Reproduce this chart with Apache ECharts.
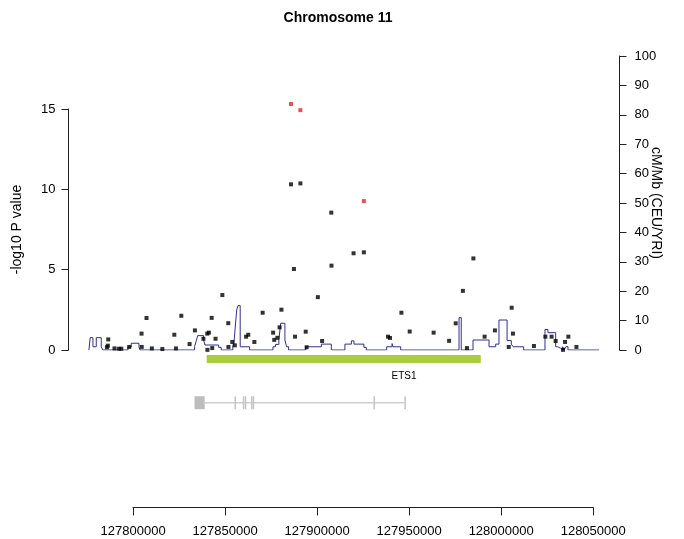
<!DOCTYPE html>
<html>
<head>
<meta charset="utf-8">
<script src="https://cdn.jsdelivr.net/npm/echarts@6/dist/echarts.min.js"></script>
<style>
  html, body { margin: 0; padding: 0; background: #ffffff; }
  #chart { width: 684px; height: 539px; }
</style>
</head>
<body>
<div id="chart"></div>
<script>
// SNP positions (bp, chromosome 11) and their -log10 P values
const snpPos = [
  127785800, 127786300, 127786500, 127789900, 127792300, 127793600, 127797900,
  127804600, 127804700, 127807300, 127810200, 127815900, 127822400, 127823300,
  127826200, 127830700, 127833600, 127838200, 127840300, 127841200, 127840400,
  127843000, 127842700, 127844800, 127848500, 127851700, 127851800, 127853900,
  127855300, 127861400, 127862600, 127865900, 127870400, 127876100, 127876700,
  127878400, 127879600, 127880600, 127885800, 127890900, 127887400, 127888000,
  127893800, 127894300, 127900400, 127902700, 127907700, 127907800, 127919800,
  127925400, 127938500, 127939600, 127945800, 127950300, 127963300, 127971700,
  127975300, 127979200, 127981400, 127984900, 127991000, 127996600, 128004100,
  128005700, 128006400, 128017800, 128024000, 128027400, 128029600, 128033600,
  128034700, 128036500, 128040900
];
const snpLogP = [
  0.17, 0.27, 0.66, 0.10, 0.08, 0.08, 0.19,
  1.02, 0.19, 1.99, 0.10, 0.06, 0.95, 0.10,
  2.13, 0.37, 1.22, 0.70, 1.02, 1.08, 0.01,
  0.12, 2.00, 0.70, 3.42, 1.67, 0.19, 0.50,
  0.29, 0.83, 0.95, 0.50, 2.32, 1.08, 0.63,
  0.76, 1.41, 2.51, 10.31, 10.37, 5.04, 0.83,
  1.14, 0.17, 3.29, 0.56, 8.55, 5.25, 6.02,
  6.08, 0.83, 0.75, 2.32, 1.15, 1.08, 0.57,
  1.66, 3.68, 0.12, 5.70, 0.83, 1.22, 0.19,
  2.63, 1.02, 0.25, 0.83, 0.83, 0.56, 0.01,
  0.50, 0.83, 0.19
];

// Highlighted SNPs (drawn in red)
const hitPos = [127885800, 127890900, 127925400];
const hitLogP = [15.31, 14.93, 9.27];

// Recombination rate (cM/Mb); each rate holds from its position to the next one
const recombPos = [
  127776000, 127776700, 127778200, 127780000, 127782700, 127783600, 127797200,
  127799000, 127803200, 127803800, 127833400, 127834300, 127835100, 127838300,
  127839100, 127846500, 127847900, 127854200, 127854800, 127855700, 127856300,
  127857000, 127858200, 127863300, 127876000, 127877400, 127879200, 127880200,
  127882500, 127883400, 127884500, 127893800, 127902300, 127907700, 127915100,
  127918600, 127920000, 127925400, 127926700, 127937800, 127940700, 127941200,
  127945400, 127977100, 127978300, 127984700, 127993400, 127997000, 127998800,
  128003200, 128005500, 128006500, 128012200, 128023800, 128025400, 128029600,
  128030700, 128032300, 128033400, 128034200, 128035100, 128036300, 128053200
];
const recombRate = [
  0, 4.2, 1.1, 4.2, 1.1, 0, 1.0,
  2.3, 1.0, 0, 1.2, 3.0, 4.9, 3.4,
  1.7, 0.9, 0, 1.4, 2.4, 9.2, 13.6,
  15.1, 1.1, 0, 1.1, 1.9, 3.4, 9.1,
  3.4, 1.1, 0, 1.1, 2.0, 0, 2.0,
  3.1, 2.0, 0.9, 0, 1.1, 2.2, 1.1,
  0, 11.0, 0, 3.4, 1.1, 2.0, 10.2,
  3.2, 2.0, 1.1, 0, 7.0, 5.9, 1.1,
  0.6, 0, 1.1, 0, 1.1, 0, 0
];

// Gene span (green bar) and where its name is written
const geneNames = ['ETS1'];
const geneStarts = [127840000];
const geneEnds = [127988900];
const geneLabelPos = [127947200];

// Transcript exons (grey track)
const exonStarts = [127833400, 127855100, 127859600, 127860700, 127864100, 127865000, 127930600, 127947400];
const exonEnds   = [127838900, 127855300, 127859800, 127860900, 127864300, 127865200, 127930800, 127947600];

// Bottom axis ticks
const axisStart = 127800000;
const axisEnd = 128050000;
const axisStep = 50000;

// ---- layout ----
const W = 684;
const plotLeft = 68.5, plotRight = 619.5;
const FONT = 'Liberation Sans, Arial, Helvetica, sans-serif';

// x range = data range padded by 4% on each side
const allX = snpPos.concat(hitPos, recombPos);
const dMin = Math.min.apply(null, allX), dMax = Math.max.apply(null, allX);
const pad = 0.04 * (dMax - dMin);
const xMin = dMin - pad, xMax = dMax + pad;
const toPx = v => plotLeft + (v - xMin) / (xMax - xMin) * (plotRight - plotLeft);

const chart = echarts.init(document.getElementById('chart'), null, { renderer: 'canvas' });

const hiddenX = (gi) => ({
  type: 'value', gridIndex: gi, min: xMin, max: xMax, show: false
});

// rows inside the annotation grid (pixels below the zero line)
const GENE_ROW = 9, TRACK_ROW = 52.7, LABEL_ROW = 26.5;

const tickLabel = { fontFamily: FONT, fontSize: 13, color: '#000' };

const option = {
  animation: false,
  backgroundColor: '#ffffff',
  title: {
    text: 'Chromosome 11',
    left: 333,
    top: 6,
    textAlign: 'center',
    textStyle: { fontFamily: FONT, fontSize: 14, fontWeight: 'bold', color: '#000' }
  },
  grid: [
    { left: plotLeft, right: W - plotRight, top: 109, bottom: 189 },   // association
    { left: plotLeft, right: W - plotRight, top: 56, bottom: 189 },    // recombination
    { left: plotLeft, right: W - plotRight, top: 350, height: 70 },    // gene annotation
    { left: toPx(axisStart), right: W - toPx(axisEnd), top: 420, bottom: 31.5 } // position axis
  ],
  xAxis: [
    hiddenX(0), hiddenX(1), hiddenX(2),
    {
      type: 'value', gridIndex: 3, position: 'bottom',
      min: axisStart, max: axisEnd, interval: axisStep,
      axisLine: { show: true, lineStyle: { color: '#222', width: 1 } },
      axisTick: { show: true, length: 8, lineStyle: { color: '#222' } },
      axisLabel: Object.assign({ margin: 17, formatter: v => String(v) }, tickLabel),
      splitLine: { show: false }
    }
  ],
  yAxis: [
    {
      type: 'value', gridIndex: 0, position: 'left', min: 0, max: 15, interval: 5,
      axisLine: { show: true, lineStyle: { color: '#222', width: 1 } },
      axisTick: { show: true, length: 7, lineStyle: { color: '#222' } },
      axisLabel: Object.assign({ margin: 13 }, tickLabel),
      splitLine: { show: false },
      name: '-log10 P value', nameLocation: 'middle', nameGap: 44,
      nameMoveOverlap: false,
      nameTextStyle: { fontFamily: FONT, fontSize: 14, color: '#000' }
    },
    {
      type: 'value', gridIndex: 1, position: 'right', min: 0, max: 100, interval: 10,
      axisLine: { show: true, lineStyle: { color: '#222', width: 1 } },
      axisTick: { show: true, length: 7, lineStyle: { color: '#222' } },
      axisLabel: Object.assign({ margin: 15 }, tickLabel),
      splitLine: { show: false },
      name: 'cM/Mb (CEU/YRI)', nameLocation: 'middle', nameGap: 29, nameRotate: -90,
      nameMoveOverlap: false,
      nameTextStyle: { fontFamily: FONT, fontSize: 14, color: '#000' }
    },
    { type: 'value', gridIndex: 2, min: 0, max: 70, inverse: true, show: false },
    { type: 'value', gridIndex: 3, min: 0, max: 1, show: false }
  ],
  series: [
    {
      name: 'recombination', type: 'line', xAxisIndex: 1, yAxisIndex: 1,
      step: 'end', showSymbol: false, symbol: 'none',
      lineStyle: { color: '#2e3192', width: 1 },
      data: recombPos.map((x, i) => [x, recombRate[i]]),
      z: 2
    },
    {
      name: 'snps', type: 'scatter', xAxisIndex: 0, yAxisIndex: 0,
      symbol: 'rect', symbolSize: 4, clip: false,
      itemStyle: { color: '#000' },
      data: snpPos.map((x, i) => [x, snpLogP[i]]),
      z: 3
    },
    {
      name: 'hits', type: 'scatter', xAxisIndex: 0, yAxisIndex: 0,
      symbol: 'rect', symbolSize: 4, clip: false,
      itemStyle: { color: '#e3262a' },
      data: hitPos.map((x, i) => [x, hitLogP[i]]),
      z: 4
    },
    {
      name: 'gene', type: 'custom', xAxisIndex: 2, yAxisIndex: 2,
      data: geneStarts.map((s, i) => [s, geneEnds[i], geneLabelPos[i]]),
      renderItem: (params, api) => {
        const a = api.coord([api.value(0), GENE_ROW]);
        const b = api.coord([api.value(1), GENE_ROW]);
        const t = api.coord([api.value(2), LABEL_ROW]);
        return {
          type: 'group',
          children: [
            { type: 'rect', shape: { x: a[0], y: a[1] - 4, width: b[0] - a[0], height: 8 },
              style: { fill: '#a9cd3c' } },
            { type: 'text', x: t[0], y: t[1],
              style: { text: geneNames[params.dataIndex], fill: '#000', font: '10px ' + FONT,
                       align: 'center', verticalAlign: 'middle' } }
          ]
        };
      }
    },
    {
      name: 'transcript', type: 'custom', xAxisIndex: 2, yAxisIndex: 2,
      data: [[exonEnds[0], exonStarts[exonStarts.length - 1]]],
      renderItem: (params, api) => {
        const a = api.coord([api.value(0), TRACK_ROW]);
        const b = api.coord([api.value(1), TRACK_ROW]);
        return { type: 'rect', shape: { x: a[0], y: a[1] - 0.75, width: b[0] - a[0], height: 1.5 },
                 style: { fill: '#cfcfcf' } };
      },
      z: 1
    },
    {
      name: 'exons', type: 'custom', xAxisIndex: 2, yAxisIndex: 2,
      data: exonStarts.map((s, i) => [s, exonEnds[i]]),
      renderItem: (params, api) => {
        const a = api.coord([api.value(0), TRACK_ROW]);
        const b = api.coord([api.value(1), TRACK_ROW]);
        const w = Math.max(b[0] - a[0], 1.5);
        const wide = (b[0] - a[0]) > 3;
        return { type: 'rect', shape: { x: a[0], y: a[1] - 6.5, width: w, height: 13 },
                 style: { fill: wide ? '#bdbdbd' : '#c4c4c4' } };
      },
      z: 2
    }
  ]
};

chart.setOption(option);
</script>
</body>
</html>
